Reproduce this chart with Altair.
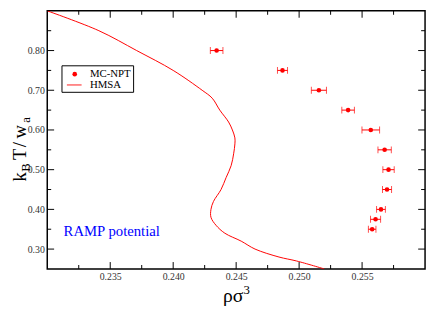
import altair as alt
import pandas as pd

# ---- data ----
mc_x = [0.24345, 0.24868, 0.25157, 0.25389, 0.25569, 0.25679, 0.25710, 0.25698, 0.25650, 0.25607, 0.25580]
mc_y = [0.80, 0.75, 0.70, 0.65, 0.60, 0.55, 0.50, 0.45, 0.40, 0.375, 0.35]
mc_err = [0.0005, 0.0004, 0.0006, 0.0005, 0.0007, 0.00053, 0.00045, 0.00036, 0.00035, 0.0004, 0.0003]

hmsa_y = [0.90, 0.85, 0.80, 0.75, 0.70, 0.68, 0.65, 0.62, 0.60, 0.58, 0.565, 0.54, 0.51,
          0.48, 0.45, 0.42, 0.40, 0.38, 0.36, 0.34, 0.32, 0.30, 0.28, 0.27, 0.25]
hmsa_x = [0.2300, 0.2341, 0.2371, 0.2400, 0.2423, 0.2431, 0.2437, 0.2444, 0.2447, 0.2449, 0.2449, 0.2448, 0.2446,
          0.2442, 0.2438, 0.2432, 0.2430, 0.2430, 0.2434, 0.2441, 0.2454, 0.2465, 0.2484, 0.2498, 0.2520]

x_major = [0.235, 0.240, 0.245, 0.250, 0.255]
x_minor = [0.2325, 0.2375, 0.2425, 0.2475, 0.2525, 0.2575]
y_major = [0.30, 0.40, 0.50, 0.60, 0.70, 0.80]
y_minor = [0.35, 0.45, 0.55, 0.65, 0.75, 0.85]

x_domain = [0.23, 0.26]
y_domain = [0.25, 0.90]

W, H = 385, 263
RED = "#ff0000"
SERIF = "Liberation Serif, Times New Roman, serif"

mc = pd.DataFrame({"x": mc_x, "y": mc_y, "err": mc_err})
mc["lo"] = mc["x"] - mc["err"]
mc["hi"] = mc["x"] + mc["err"]
hm = pd.DataFrame({"x": hmsa_x, "y": hmsa_y, "i": range(len(hmsa_x))})

xs = alt.Scale(domain=x_domain, nice=False, zero=False)
ys = alt.Scale(domain=y_domain, nice=False, zero=False)

x_axis = alt.Axis(values=x_major, format=".3f", title=None, labelPadding=3)
y_axis = alt.Axis(values=y_major, format=".2f", title=None, labelPadding=3)

line = alt.Chart(hm).mark_line(color=RED, strokeWidth=1, clip=True, interpolate="catmull-rom").encode(
    x=alt.X("x:Q", scale=xs, axis=x_axis),
    y=alt.Y("y:Q", scale=ys, axis=y_axis),
    order="i:Q",
)

err = alt.Chart(mc).mark_rule(color=RED, strokeWidth=1).encode(
    x=alt.X("lo:Q", scale=xs), x2="hi:Q", y=alt.Y("y:Q", scale=ys)
)
cap_lo = alt.Chart(mc).mark_tick(color=RED, orient="vertical", size=7, thickness=1).encode(
    x=alt.X("lo:Q", scale=xs), y=alt.Y("y:Q", scale=ys)
)
cap_hi = alt.Chart(mc).mark_tick(color=RED, orient="vertical", size=7, thickness=1).encode(
    x=alt.X("hi:Q", scale=xs), y=alt.Y("y:Q", scale=ys)
)
pts = alt.Chart(mc).mark_circle(color=RED, size=22, opacity=1).encode(
    x=alt.X("x:Q", scale=xs), y=alt.Y("y:Q", scale=ys)
)

# inward ticks on all four sides
def xticks(vals, length):
    d = pd.DataFrame({"v": vals})
    bot = alt.Chart(d).mark_rule(color="black", strokeWidth=1).encode(
        x=alt.X("v:Q", scale=xs), y=alt.value(H), y2=alt.value(H - length))
    top = alt.Chart(d).mark_rule(color="black", strokeWidth=1).encode(
        x=alt.X("v:Q", scale=xs), y=alt.value(0), y2=alt.value(length))
    return [bot, top]

def yticks(vals, length):
    d = pd.DataFrame({"v": vals})
    lef = alt.Chart(d).mark_rule(color="black", strokeWidth=1).encode(
        y=alt.Y("v:Q", scale=ys), x=alt.value(0), x2=alt.value(length))
    rig = alt.Chart(d).mark_rule(color="black", strokeWidth=1).encode(
        y=alt.Y("v:Q", scale=ys), x=alt.value(W), x2=alt.value(W - length))
    return [lef, rig]

ticks = xticks(x_major, 7) + xticks(x_minor, 4) + yticks(y_major, 7) + yticks(y_minor, 4)

# annotation
ramp = alt.Chart(pd.DataFrame({"x": [0.2313], "y": [0.3446], "t": ["RAMP  potential"]})).mark_text(
    align="left", baseline="middle", font=SERIF, fontSize=15, color="#0000ff"
).encode(x=alt.X("x:Q", scale=xs), y=alt.Y("y:Q", scale=ys), text="t:N")

def txt(s, x, y, size, angle=0, align="left", baseline="alphabetic"):
    kw = dict(align=align, baseline=baseline, font=SERIF, fontSize=size, color="black")
    if angle:
        kw["angle"] = angle
    return alt.Chart(pd.DataFrame({"t": [s]})).mark_text(**kw).encode(
        x=alt.value(x), y=alt.value(y), text="t:N")

# y title  k_B T / w_a  (rotated)
ytitle = [
    txt("k", -22, 174, 19, 270),
    txt("B", -18, 164, 13, 270),
    txt("T", -22, 152, 19, 270),
    txt("/", -22, 139, 19, 270),
    txt("w", -22, 130, 19, 270),
    txt("a", -18, 114, 13, 270),
]
# x title rho sigma^3
xtitle = [
    txt("ρσ", 179, 297, 20),
    txt("3", 200, 289, 13),
]

# legend
box = alt.Chart(pd.DataFrame({"a": [0]})).mark_rect(fill="white", stroke="black", strokeWidth=1).encode(
    x=alt.value(15), x2=alt.value(88), y=alt.value(56), y2=alt.value(83))
leg_dot = alt.Chart(pd.DataFrame({"a": [0]})).mark_circle(color=RED, size=22, opacity=1).encode(
    x=alt.value(28), y=alt.value(64.5))
leg_line = alt.Chart(pd.DataFrame({"a": [0]})).mark_rule(color=RED, strokeWidth=1.5, opacity=0.6).encode(
    x=alt.value(20), x2=alt.value(35), y=alt.value(75.5))
leg_t1 = txt("MC-NPT", 43.5, 64.5, 11, baseline="middle")
leg_t2 = txt("HMSA", 43.5, 76, 11, baseline="middle")

chart = alt.layer(
    line, err, cap_lo, cap_hi, pts, *ticks, ramp, *ytitle, *xtitle,
    box, leg_dot, leg_line, leg_t1, leg_t2
).properties(
    width=W, height=H,
    autosize=alt.AutoSizeParams(type="none"),
    padding={"left": 40, "top": 0, "right": 3, "bottom": 42},
).configure_view(
    stroke="black", strokeWidth=1.5
).configure_axis(
    grid=False, ticks=False, domain=False,
    labelFont=SERIF, labelFontSize=10, labelColor="#333333",
)

chart.save("out.html", embed_options={"renderer": "svg", "actions": False})
